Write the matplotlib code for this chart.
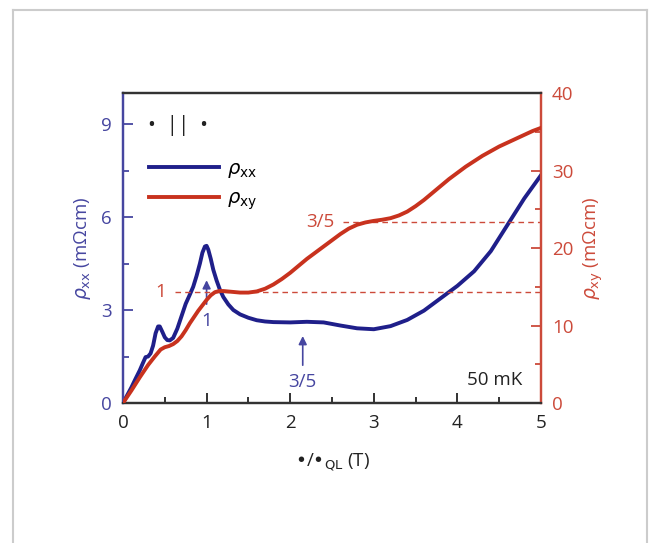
import matplotlib
matplotlib.use("Agg")
import matplotlib.pyplot as plt
from matplotlib.lines import Line2D
from matplotlib.ticker import MultipleLocator

plt.rcParams['font.family'] = ['Open Sans', 'DejaVu Sans']
plt.rcParams['mathtext.fontset'] = 'dejavusans'

# rho_xx (left axis, mOhm cm) vs field (T)
bxx = [0, 0.05, 0.1, 0.15, 0.2, 0.24, 0.27, 0.3, 0.33, 0.36, 0.39, 0.42, 0.44,
       0.47, 0.5, 0.53, 0.56, 0.6, 0.65, 0.7, 0.75, 0.8, 0.84, 0.88, 0.92, 0.95,
       0.98, 1.0, 1.02, 1.05, 1.08, 1.12, 1.16, 1.2, 1.26, 1.32, 1.4, 1.5, 1.6,
       1.7, 1.8, 2.0, 2.2, 2.4, 2.6, 2.8, 3.0, 3.2, 3.4, 3.6, 3.8, 4.0, 4.2,
       4.4, 4.6, 4.8, 5.0]
rxx = [0, 0.25, 0.5, 0.78, 1.05, 1.3, 1.48, 1.5, 1.6, 1.85, 2.25, 2.47, 2.47,
       2.3, 2.12, 2.03, 2.02, 2.1, 2.4, 2.8, 3.2, 3.5, 3.75, 4.1, 4.5, 4.85,
       5.05, 5.07, 4.95, 4.65, 4.3, 3.95, 3.65, 3.42, 3.18, 3.0, 2.86, 2.75, 2.67,
       2.63, 2.61, 2.6, 2.62, 2.6, 2.5, 2.41, 2.38, 2.48, 2.68, 2.98, 3.38, 3.78, 4.25,
       4.9, 5.75, 6.6, 7.35]

# rho_xy (right axis, mOhm cm)
bxy = [0, 0.1, 0.2, 0.3, 0.38, 0.45, 0.5, 0.55, 0.6, 0.65, 0.7, 0.75, 0.8, 0.85,
       0.9, 0.95, 1.0, 1.05, 1.1, 1.15, 1.2, 1.3, 1.4, 1.5, 1.6, 1.7, 1.8, 1.9,
       2.0, 2.1, 2.2, 2.3, 2.4, 2.5, 2.6, 2.7, 2.8, 2.9, 3.0, 3.1, 3.2, 3.3, 3.4,
       3.5, 3.6, 3.7, 3.8, 3.9, 4.0, 4.1, 4.2, 4.3, 4.4, 4.5, 4.6, 4.7, 4.8, 4.9, 5.0]
rxy = [0, 1.6, 3.3, 4.9, 6.0, 6.9, 7.2, 7.35, 7.6, 8.0, 8.6, 9.4, 10.3, 11.1,
       11.9, 12.6, 13.3, 13.9, 14.3, 14.45, 14.45, 14.35, 14.25, 14.25, 14.4, 14.75, 15.3, 16.0,
       16.8, 17.7, 18.6, 19.4, 20.2, 21.0, 21.8, 22.5, 23.0, 23.3, 23.5, 23.65, 23.85, 24.2, 24.7,
       25.4, 26.2, 27.1, 28.0, 28.9, 29.7, 30.5, 31.2, 31.9, 32.5, 33.1, 33.6, 34.1, 34.6, 35.1, 35.5]

# quantized plateaus: (label, rho_xy level, start field)
plateaus = [("1", 14.3, 0.62), ("3/5", 23.4, 2.63)]
# minima markers on rho_xx: (label, field, arrow from, arrow to)
arrows = [("1", 1.0, 3.1, 4.05), ("3/5", 2.15, 1.13, 2.25)]

blue = '#1f1f8a'
red = '#c8321e'
blue_lt = '#4646a0'
red_lt = '#cc4a3a'

fig = plt.figure(figsize=(6.49, 5.43), dpi=100)
ax = fig.add_axes([0.1895, 0.2578, 0.6441, 0.5709])
ax2 = ax.twinx()

ax.plot(bxx, rxx, color=blue, lw=2.8, zorder=3, solid_joinstyle='round')
ax2.plot(bxy, rxy, color=red, lw=2.8, zorder=3, solid_joinstyle='round')

for lab, lev, b0 in plateaus:
    ax2.plot([b0, 5], [lev, lev], ls=(0, (4, 3)), color=red_lt, lw=1.0)
    ax2.text(b0 - 0.1, lev, lab, color=red_lt, fontsize=13.5, ha='right', va='center')

for lab, b, y0, y1 in arrows:
    ax.annotate('', xy=(b, y1), xytext=(b, y0),
                arrowprops=dict(arrowstyle='-|>', color=blue_lt, lw=1.2, mutation_scale=12))
    ax.text(b, y0 - 0.15, lab, color=blue_lt, fontsize=13.5, ha='center', va='top')

ax.set_xlim(0, 5)
ax.set_ylim(0, 10)
ax2.set_ylim(0, 40)

ax.xaxis.set_major_locator(MultipleLocator(1))
ax.xaxis.set_minor_locator(MultipleLocator(0.5))
ax.yaxis.set_major_locator(MultipleLocator(3))
ax.yaxis.set_minor_locator(MultipleLocator(1.5))
ax2.yaxis.set_major_locator(MultipleLocator(10))
ax2.yaxis.set_minor_locator(MultipleLocator(5))

ax.tick_params(axis='x', which='both', direction='in', colors='#222222', labelsize=13.5, width=1.3, pad=8)
ax.tick_params(axis='x', which='major', length=7)
ax.tick_params(axis='x', which='minor', length=4)
ax.tick_params(axis='y', which='both', direction='in', color=blue_lt, labelcolor=blue_lt,
               labelsize=13.5, width=1.3, pad=8)
ax.tick_params(axis='y', which='major', length=7)
ax.tick_params(axis='y', which='minor', length=4)
ax2.tick_params(axis='y', which='both', direction='in', color=red_lt, labelcolor=red_lt,
                labelsize=13.5, width=1.3, pad=8)
ax2.tick_params(axis='y', which='major', length=7)
ax2.tick_params(axis='y', which='minor', length=4)

for a in (ax, ax2):
    a.spines['top'].set_color('#333333')
    a.spines['bottom'].set_color('#333333')
    a.spines['left'].set_color(blue_lt)
    a.spines['right'].set_color(red_lt)
    for s in a.spines.values():
        s.set_linewidth(1.6)

ax.set_xlabel('\u2022/\u2022$_{\\rm QL}$ (T)', fontsize=13.5, color='#222222', labelpad=14)
ax.set_ylabel('$\\rho_{\\rm xx}$ (m\u03a9cm)', fontsize=13.5, color=blue_lt, labelpad=6)
ax2.set_ylabel('$\\rho_{\\rm xy}$ (m\u03a9cm)', fontsize=13.5, color=red_lt, rotation=90, labelpad=6)

ax.text(0.06, 0.895, '\u2022  ||  \u2022', transform=ax.transAxes, fontsize=15,
        color='#222222', ha='left', va='center')
ax.text(0.955, 0.075, '50 mK', transform=ax.transAxes, fontsize=13.5,
        color='#222222', ha='right', va='center')

handles = [Line2D([], [], color=blue, lw=2.8), Line2D([], [], color=red, lw=2.8)]
ax.legend(handles, ['$\\rho_{\\rm xx}$', '$\\rho_{\\rm xy}$'], loc='upper left',
          bbox_to_anchor=(0.02, 0.84), frameon=False, fontsize=14,
          handlelength=3.6, labelspacing=0.5, handletextpad=0.4)

# light grey frame around the panel
fc = '#cccccc'
fig.add_artist(Line2D([13 / 649, 13 / 649], [0, 1 - 10 / 543], color=fc, lw=1.5))
fig.add_artist(Line2D([13 / 649, 647 / 649], [1 - 10 / 543, 1 - 10 / 543], color=fc, lw=1.5))
fig.add_artist(Line2D([647 / 649, 647 / 649], [0, 1 - 10 / 543], color=fc, lw=1.5))

fig.savefig('out.png', dpi=100)
